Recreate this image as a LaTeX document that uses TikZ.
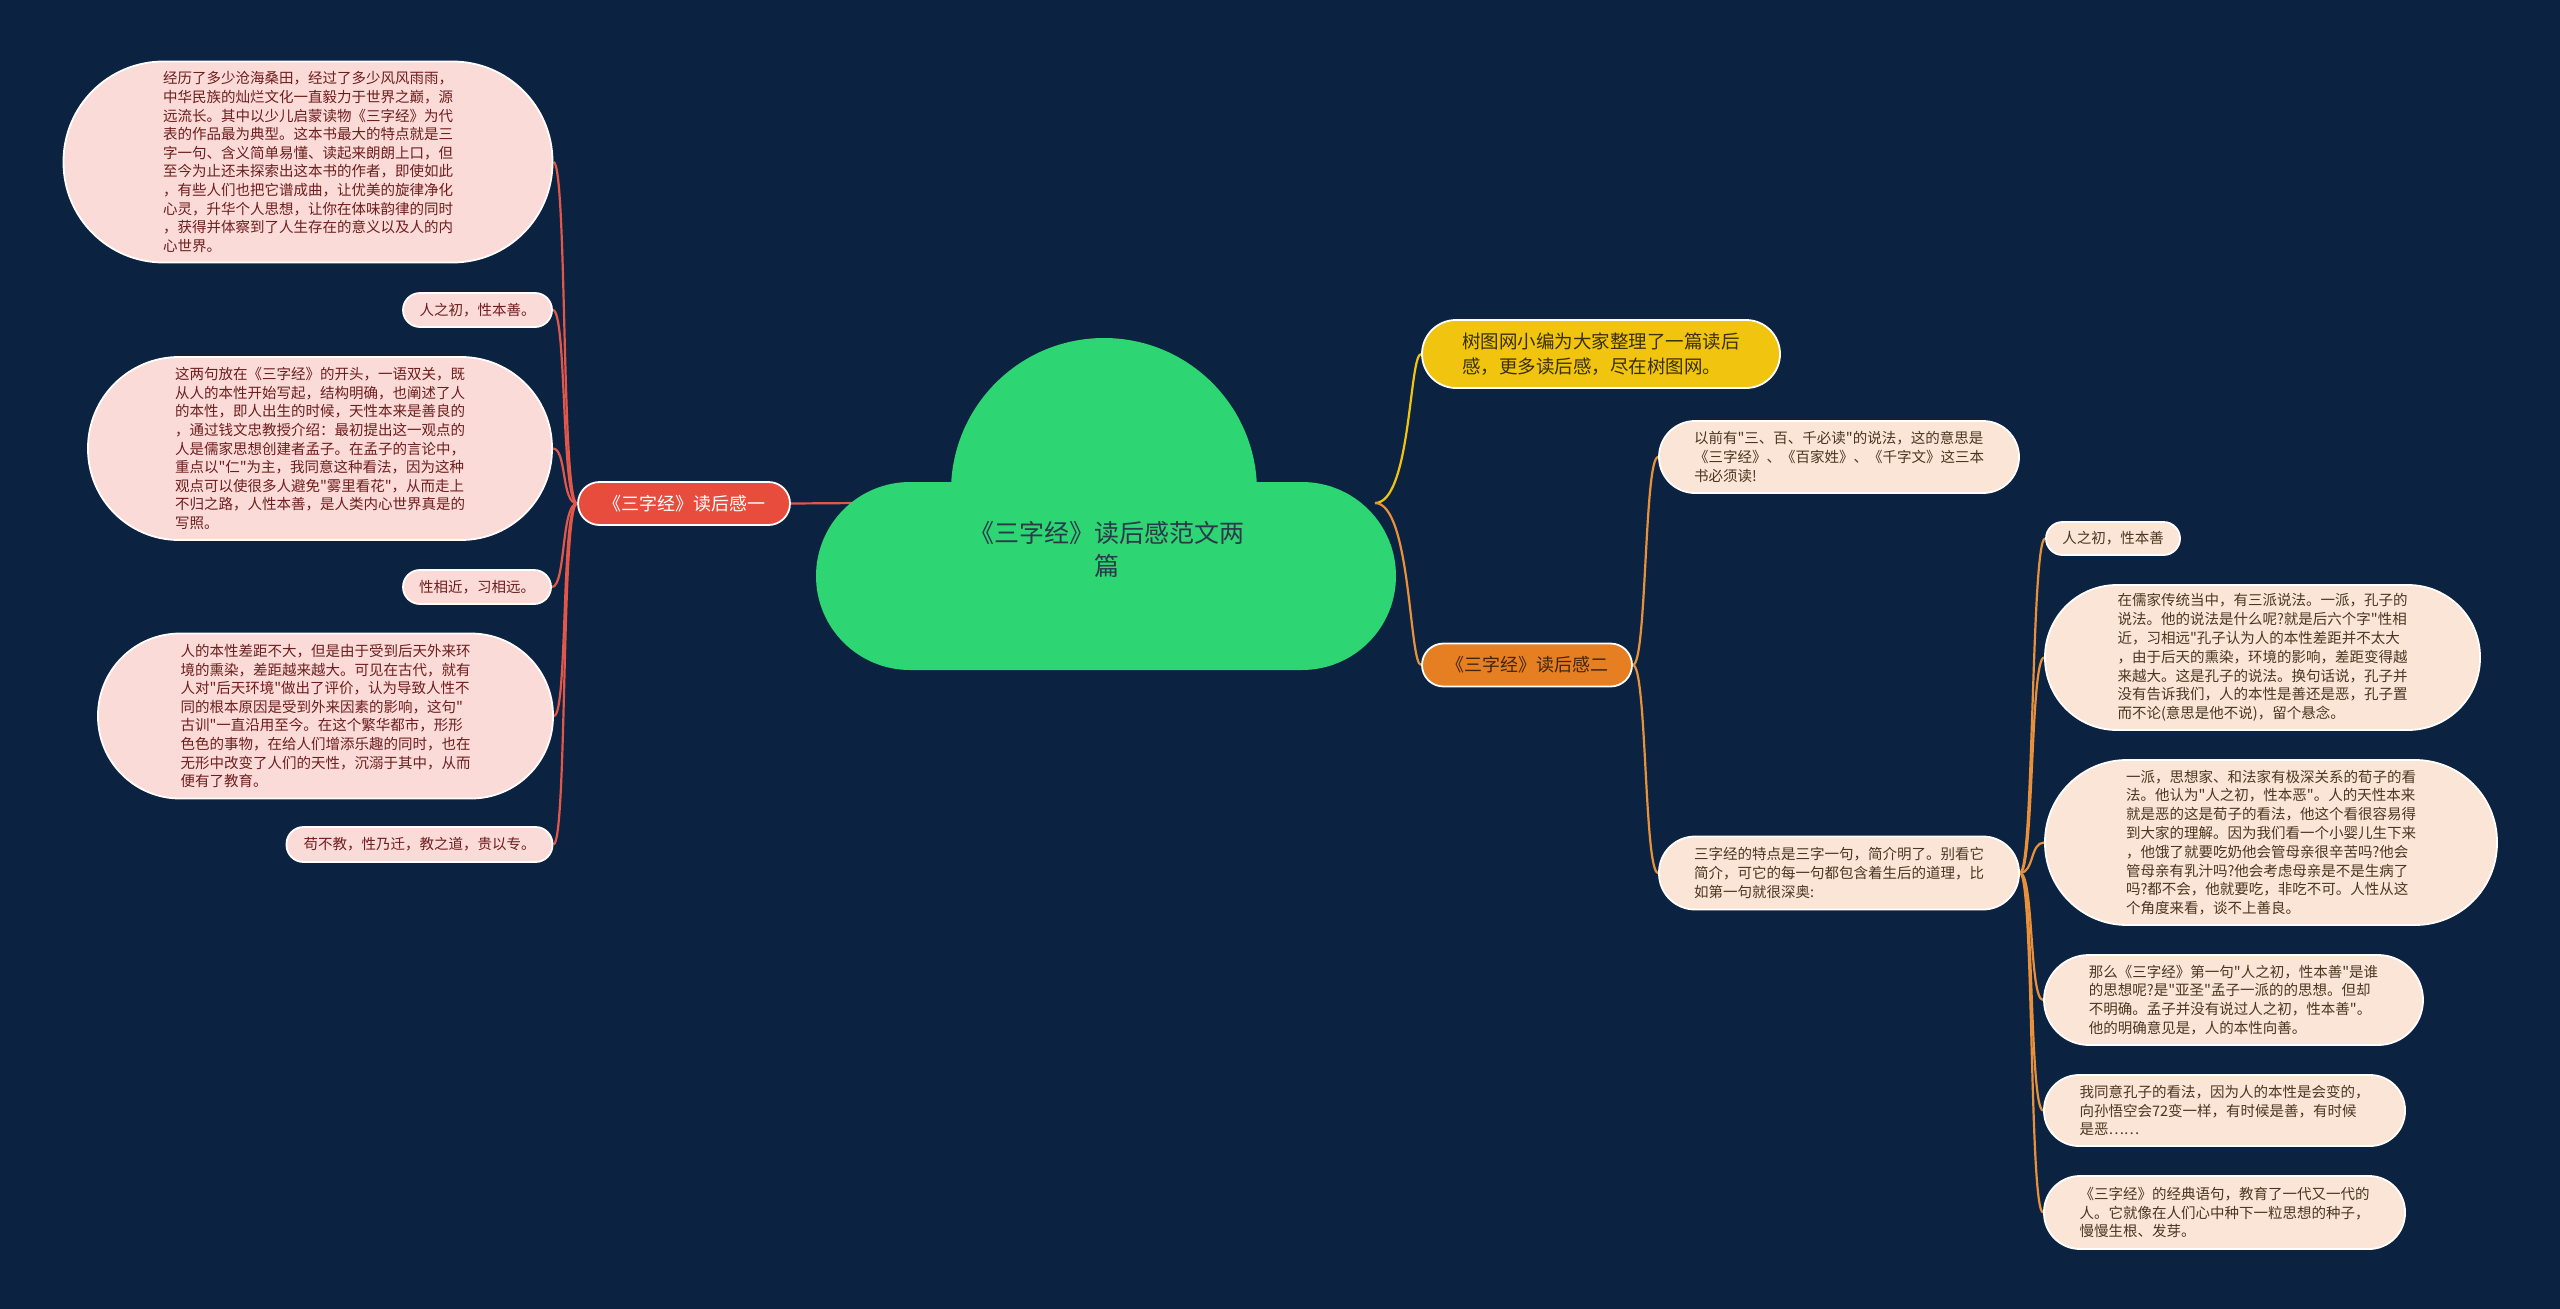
\documentclass[tikz,border=0pt]{standalone}
\usepackage{fontspec}
\setmainfont{Noto Sans CJK SC}
\newfontfamily\cjkfont{Noto Sans CJK SC}
\definecolor{bgnavy}{HTML}{0B2341}
\definecolor{cloudgreen}{HTML}{2ED573}
\definecolor{cloudtext}{HTML}{2B3A4A}
\definecolor{redfill}{HTML}{E74C3C}
\definecolor{redline}{HTML}{E2574A}
\definecolor{yelfill}{HTML}{F1C40F}
\definecolor{yeltext}{HTML}{3A3000}
\definecolor{orfill}{HTML}{E67E22}
\definecolor{ortext}{HTML}{43250C}
\definecolor{orline}{HTML}{E8913A}
\definecolor{leafLfill}{HTML}{FADBD8}
\definecolor{leafLtext}{HTML}{6E1E1E}
\definecolor{leafRfill}{HTML}{FBE5D6}
\definecolor{leafRtext}{HTML}{4B3621}
\pgfdeclarelayer{back}
\pgfdeclarelayer{bg}
\pgfsetlayers{back,bg,main}
\tikzset{
  leafL/.style={fill=leafLfill, draw=white, line width=1.8pt, text=leafLtext,
    font=\cjkfont\fontsize{14.5}{18.6}\selectfont, align=left, inner sep=0pt},
  leafR/.style={fill=leafRfill, draw=white, line width=1.8pt, text=leafRtext,
    font=\cjkfont\fontsize{14.5}{18.8}\selectfont, align=left, inner sep=0pt},
  branchbox/.style={draw=white, line width=1.8pt, inner sep=0pt,
    font=\cjkfont\fontsize{18}{24}\selectfont, align=left},
  lineR/.style={draw=redline, line width=2.2pt},
  lineO/.style={draw=orline, line width=2.2pt},
  lineY/.style={draw=yelfill, line width=2.2pt},
}
\begin{document}
\begin{tikzpicture}[x=1pt,y=-1pt]
\begin{pgfonlayer}{back}
\fill[bgnavy] (0,0) rectangle (2560,1309);
\end{pgfonlayer}
\useasboundingbox (0,0) rectangle (2560,1309);

% cloud
\fill[cloudgreen] (1104,491) circle (153);
\fill[cloudgreen, rounded corners=94] (816,482) rectangle (1396,670);
\node[text=cloudtext, font=\cjkfont\fontsize{25}{33}\selectfont, align=center, inner sep=0pt] (cloud) at (1107,549) {《三字经》读后感范文两\\篇};
\coordinate (cloudL) at (860,503);
\coordinate (cloudR) at (1375,503);

% left branch
\node[branchbox, fill=redfill, text=white, minimum width=212pt, minimum height=43pt, rounded corners=21.5pt] (b1) at (684,503.5) {《三字经》读后感一};

\node[leafL, minimum width=489pt, minimum height=201pt, rounded corners=100pt] (L1) at (308,162) {经历了多少沧海桑田，经过了多少风风雨雨，\\中华民族的灿烂文化一直毅力于世界之巅，源\\远流长。其中以少儿启蒙读物《三字经》为代\\表的作品最为典型。这本书最大的特点就是三\\字一句、含义简单易懂、读起来朗朗上口，但\\至今为止还未探索出这本书的作者，即使如此\\，有些人们也把它谱成曲，让优美的旋律净化\\心灵，升华个人思想，让你在体味韵律的同时\\，获得并体察到了人生存在的意义以及人的内\\心世界。};
\node[leafL, minimum width=149pt, minimum height=34pt, rounded corners=17pt] (L2) at (477.5,310) {人之初，性本善。};
\node[leafL, minimum width=464pt, minimum height=183pt, rounded corners=91pt] (L3) at (320,448.5) {这两句放在《三字经》的开头，一语双关，既\\从人的本性开始写起，结构明确，也阐述了人\\的本性，即人出生的时候，天性本来是善良的\\，通过钱文忠教授介绍：最初提出这一观点的\\人是儒家思想创建者孟子。在孟子的言论中，\\重点以"仁"为主，我同意这种看法，因为这种\\观点可以使很多人避免"雾里看花"，从而走上\\不归之路，人性本善，是人类内心世界真是的\\写照。};
\node[leafL, minimum width=148pt, minimum height=34pt, rounded corners=17pt] (L4) at (477,587) {性相近，习相远。};
\node[leafL, minimum width=455pt, minimum height=165pt, rounded corners=82pt] (L5) at (325.5,716) {人的本性差距不大，但是由于受到后天外来环\\境的熏染，差距越来越大。可见在古代，就有\\人对"后天环境"做出了评价，认为导致人性不\\同的根本原因是受到外来因素的影响，这句"\\古训"一直沿用至今。在这个繁华都市，形形\\色色的事物，在给人们增添乐趣的同时，也在\\无形中改变了人们的天性，沉溺于其中，从而\\便有了教育。};
\node[leafL, minimum width=266pt, minimum height=35pt, rounded corners=17pt] (L6) at (419.5,844.5) {苟不教，性乃迁，教之道，贵以专。};

% right branches
\node[branchbox, fill=yelfill, text=yeltext, font=\cjkfont\fontsize{18.5}{25}\selectfont, minimum width=358pt, minimum height=68pt, rounded corners=34pt] (b0) at (1601,354) {树图网小编为大家整理了一篇读后\\感，更多读后感，尽在树图网。};
\node[branchbox, fill=orfill, text=ortext, minimum width=210pt, minimum height=43pt, rounded corners=21.5pt] (b2) at (1527,665) {《三字经》读后感二};

\node[leafR, minimum width=360pt, minimum height=72pt, rounded corners=36pt] (R1) at (1839,457) {以前有"三、百、千必读"的说法，这的意思是\\《三字经》、《百家姓》、《千字文》这三本\\书必须读!};
\node[leafR, minimum width=360pt, minimum height=73pt, rounded corners=36pt] (R2) at (1839,873) {三字经的特点是三字一句，简介明了。别看它\\简介，可它的每一句都包含着生后的道理，比\\如第一句就很深奥:};

\node[leafR, minimum width=134pt, minimum height=33pt, rounded corners=16.5pt] (C1) at (2113,538.5) {人之初，性本善};
\node[leafR, minimum width=435pt, minimum height=145pt, rounded corners=72pt] (C2) at (2262.5,657.5) {在儒家传统当中，有三派说法。一派，孔子的\\说法。他的说法是什么呢?就是后六个字"性相\\近，习相远"孔子认为人的本性差距并不太大\\，由于后天的熏染，环境的影响，差距变得越\\来越大。这是孔子的说法。换句话说，孔子并\\没有告诉我们，人的本性是善还是恶，孔子置\\而不论(意思是他不说)，留个悬念。};
\node[leafR, minimum width=452pt, minimum height=165pt, rounded corners=82pt] (C3) at (2271,842.5) {一派，思想家、和法家有极深关系的荀子的看\\法。他认为"人之初，性本恶"。人的天性本来\\就是恶的这是荀子的看法，他这个看很容易得\\到大家的理解。因为我们看一个小婴儿生下来\\，他饿了就要吃奶他会管母亲很辛苦吗?他会\\管母亲有乳汁吗?他会考虑母亲是不是生病了\\吗?都不会，他就要吃，非吃不可。人性从这\\个角度来看，谈不上善良。};
\node[leafR, minimum width=379pt, minimum height=90pt, rounded corners=45pt] (C4) at (2233.5,1000) {那么《三字经》第一句"人之初，性本善"是谁\\的思想呢?是"亚圣"孟子一派的的思想。但却\\不明确。孟子并没有说过人之初，性本善"。\\他的明确意见是，人的本性向善。};
\node[leafR, minimum width=361pt, minimum height=71pt, rounded corners=35pt] (C5) at (2224.5,1110.5) {我同意孔子的看法，因为人的本性是会变的，\\向孙悟空会72变一样，有时候是善，有时候\\是恶……};
\node[leafR, minimum width=361pt, minimum height=73pt, rounded corners=36pt] (C6) at (2224.5,1212.5) {《三字经》的经典语句，教育了一代又一代的\\人。它就像在人们心中种下一粒思想的种子，\\慢慢生根、发芽。};

% connectors
\begin{pgfonlayer}{bg}
\draw[lineR] (cloudL) -- (b1.east);
\foreach \n in {L1,L2,L3,L4,L5,L6}
  \draw[lineR] (b1.west) .. controls +(-16,0) and +(14,0) .. (\n.east);
\draw[lineY] (cloudR) .. controls +(36,0) and +(-12,0) .. (b0.west);
\draw[lineO] (cloudR) .. controls +(36,0) and +(-12,0) .. (b2.west);
\draw[lineO] (b2.east) .. controls +(14,0) and +(-14,0) .. (R1.west);
\draw[lineO] (b2.east) .. controls +(14,0) and +(-14,0) .. (R2.west);
\foreach \n in {C1,C2,C3,C4,C5,C6}
  \draw[lineO] (R2.east) .. controls +(14,0) and +(-14,0) .. (\n.west);
\end{pgfonlayer}
\end{tikzpicture}
\end{document}
